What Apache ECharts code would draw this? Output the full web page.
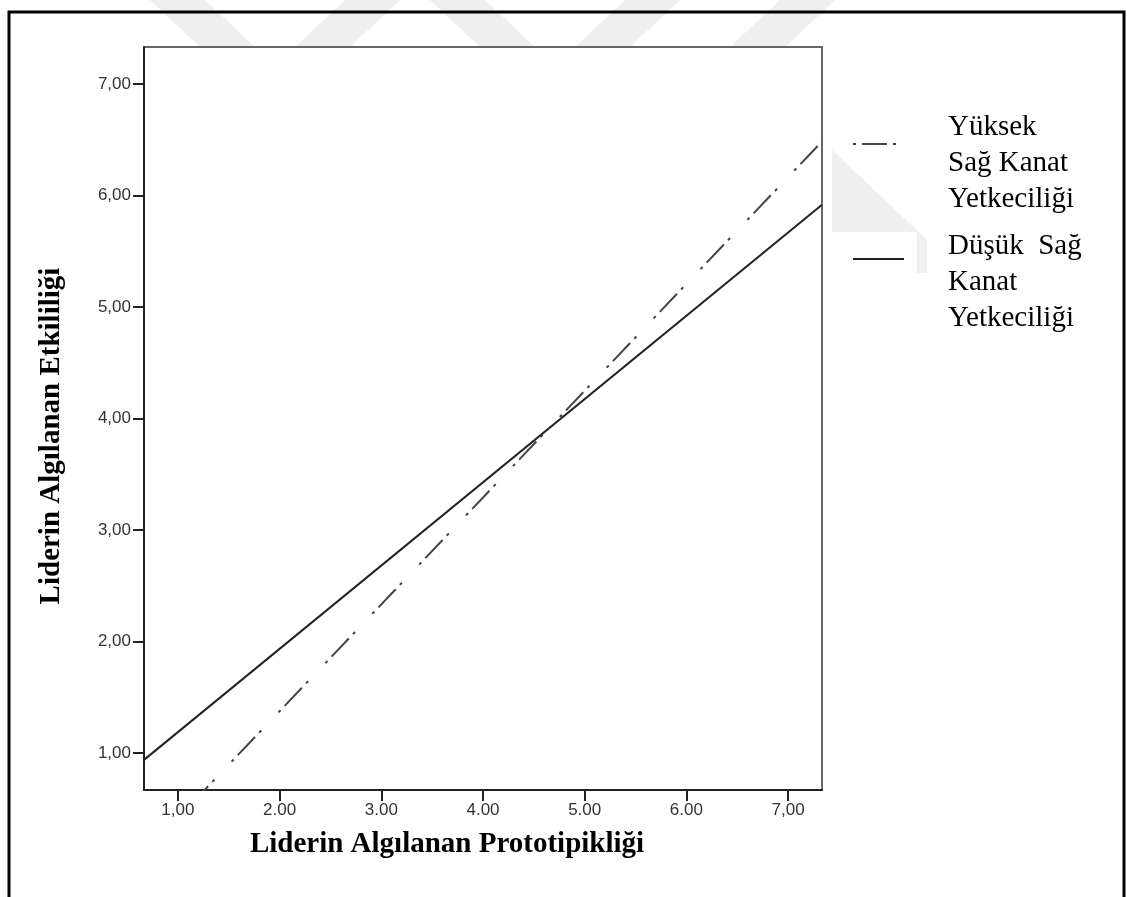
<!DOCTYPE html>
<html><head><meta charset="utf-8">
<script src="https://cdn.jsdelivr.net/npm/echarts@6/dist/echarts.min.js"></script>
<style>html,body{margin:0;padding:0;background:#fff}#c{width:1127px;height:897px}</style>
</head><body><div id="c"></div>
<script>
// ---- data ----
const xRange = [0.6667, 7.3333];
const yRange = [0.6667, 7.3333];
const xTickValues = [1, 2, 3, 4, 5, 6, 7];
const xTickLabels = ['1,00', '2.00', '3.00', '4.00', '5.00', '6.00', '7,00'];
const yTickValues = [1, 2, 3, 4, 5, 6, 7];
const yTickLabels = ['1,00', '2,00', '3,00', '4,00', '5,00', '6,00', '7,00'];
const lineX = [0.6667, 7.3333];
const highY = [0.096, 6.485];
const lowY = [0.937, 5.917];
const seriesNames = ['Yüksek Sağ Kanat Yetkeciliği', 'Düşük Sağ Kanat Yetkeciliği'];
const legendLines = [['Yüksek', 'Sağ Kanat', 'Yetkeciliği'], ['Düşük  Sağ', 'Kanat', 'Yetkeciliği']];
const xTitle = 'Liderin Algılanan Prototipikliği';
const yTitle = 'Liderin Algılanan Etkililiği';

const chart = echarts.init(document.getElementById('c'), null, {renderer: 'canvas'});
const pairs = ys => lineX.map((x, i) => [x, ys[i]]);
const tickFmt = (vals, labels) => v => { const i = vals.indexOf(Math.round(v)); return i >= 0 ? labels[i] : ''; };
const wm = '#efefef';
const tStyle = {fontFamily: 'Liberation Serif', fontSize: 29, color: '#000', lineHeight: 36};
const makeLegend = (idx, top, spacer, itemWidth, extra) => Object.assign({
  data: [seriesNames[idx]], orient: 'vertical', left: 852, top: top, padding: 0,
  itemWidth: itemWidth, itemHeight: 14,
  itemStyle: {color: 'rgba(0,0,0,0)', borderColor: 'rgba(0,0,0,0)', borderWidth: 0, opacity: 0},
  formatter: () => '{s| }\n' + legendLines[idx].map(l => '{t|' + l + '}').join('\n'),
  textStyle: {padding: [0, 0, 0, 95 - itemWidth - 5], rich: {s: {fontSize: 2, lineHeight: spacer}, t: tStyle}}
}, extra || {});

chart.setOption({
  animation: false,
  backgroundColor: '#fff',
  graphic: [
    {type: 'polygon', silent: true, z: -5, shape: {points: [[150,0],[205,0],[255,47],[200,47]]}, style: {fill: wm}},
    {type: 'polygon', silent: true, z: -5, shape: {points: [[345,0],[400,0],[350,47],[295,47]]}, style: {fill: wm}},
    {type: 'polygon', silent: true, z: -5, shape: {points: [[430,0],[485,0],[535,47],[480,47]]}, style: {fill: wm}},
    {type: 'polygon', silent: true, z: -5, shape: {points: [[625,0],[680,0],[630,47],[575,47]]}, style: {fill: wm}},
    {type: 'polygon', silent: true, z: -5, shape: {points: [[780,0],[835,0],[785,47],[730,47]]}, style: {fill: wm}},
    {type: 'polygon', silent: true, z: -5, shape: {points: [[832,150],[927,240],[927,273],[917,273],[917,232],[832,232]]}, style: {fill: wm}},
    {type: 'rect', silent: true, z: 10, shape: {x: 9, y: 12, width: 1115, height: 900}, style: {fill: 'none', stroke: '#000', lineWidth: 3}},
    {type: 'text', silent: true, x: 447, y: 845, style: {text: xTitle, fontFamily: 'Liberation Serif', fontWeight: 'bold', fontSize: 29, fill: '#000', align: 'center', verticalAlign: 'middle'}},
    {type: 'text', silent: true, x: 52, y: 436, rotation: Math.PI / 2, style: {text: yTitle, fontFamily: 'Liberation Serif', fontWeight: 'bold', fontSize: 29, fill: '#000', align: 'center', verticalAlign: 'middle'}}
  ],
  grid: {left: 144, top: 47, right: 305, bottom: 107, show: true, backgroundColor: '#fff', borderColor: '#666', borderWidth: 2, containLabel: false},
  legend: [
    makeLegend(0, 89, 38, 48, {lineStyle: {dashOffset: 59}}),
    makeLegend(1, 204, 47, 51)
  ],
  xAxis: {
    type: 'value', min: xRange[0], max: xRange[1],
    axisLine: {show: true, onZero: false, lineStyle: {color: '#222', width: 2}},
    axisTick: {show: true, customValues: xTickValues, length: 11, lineStyle: {color: '#222', width: 2}},
    axisLabel: {customValues: xTickValues, formatter: tickFmt(xTickValues, xTickLabels), margin: 12, fontFamily: 'Liberation Sans', fontSize: 17, color: '#333'},
    splitLine: {show: false}
  },
  yAxis: {
    type: 'value', min: yRange[0], max: yRange[1],
    axisLine: {show: true, onZero: false, lineStyle: {color: '#222', width: 2}},
    axisTick: {show: true, customValues: yTickValues, length: 11, lineStyle: {color: '#222', width: 2}},
    axisLabel: {customValues: yTickValues, formatter: tickFmt(yTickValues, yTickLabels), margin: 13, fontFamily: 'Liberation Sans', fontSize: 17, color: '#333'},
    splitLine: {show: false}
  },
  series: [
    {name: seriesNames[0], type: 'line', data: pairs(highY), symbol: 'none', clip: true,
     lineStyle: {color: '#444', width: 2, type: [25, 6, 3, 25, 3, 6]}, itemStyle: {color: '#444'}},
    {name: seriesNames[1], type: 'line', data: pairs(lowY), symbol: 'none', clip: true,
     lineStyle: {color: '#222', width: 2, type: 'solid'}, itemStyle: {color: '#222'}}
  ]
});
</script>
</body></html>
